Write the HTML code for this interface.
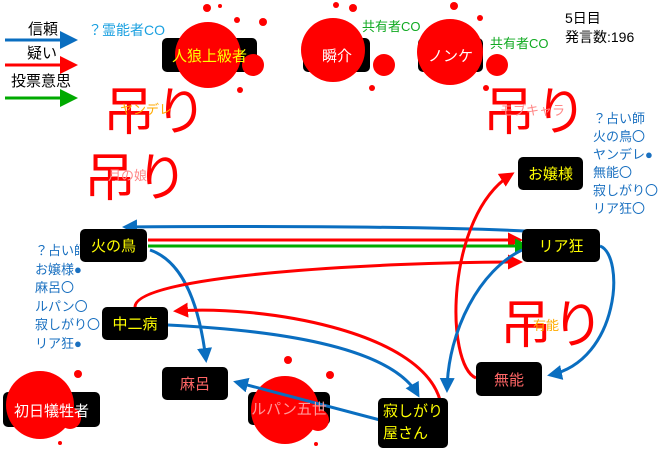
<!DOCTYPE html>
<html><head><meta charset="utf-8"><style>
body{margin:0;width:660px;height:450px;background:#fff;position:relative;overflow:hidden;font-family:"Liberation Sans","Noto Sans CJK JP",sans-serif}
.t{position:absolute;white-space:nowrap}
.n{position:absolute;background:#000;border-radius:5px;color:#ff0;font-size:15px;display:flex;align-items:center;justify-content:center}
</style></head><body>
<svg width="660" height="450" style="position:absolute;left:0;top:0">
<defs>
<marker id="b" markerWidth="5" markerHeight="5" refX="4" refY="2.5" orient="auto" markerUnits="strokeWidth"><path d="M0,0L5,2.5L0,5z" fill="#0a6ec0"/></marker>
<marker id="r" markerWidth="5" markerHeight="5" refX="4" refY="2.5" orient="auto" markerUnits="strokeWidth"><path d="M0,0L5,2.5L0,5z" fill="#f00"/></marker>
<marker id="g" markerWidth="5" markerHeight="5" refX="4" refY="2.5" orient="auto" markerUnits="strokeWidth"><path d="M0,0L5,2.5L0,5z" fill="#0a0"/></marker>
</defs>
<path d="M5,40H62" stroke="#0a6ec0" stroke-width="3"/><path d="M60,31L78,40L60,49z" fill="#0a6ec0"/>
<path d="M5,65H62" stroke="#f00" stroke-width="3"/><path d="M60,56L78,65L60,74z" fill="#f00"/>
<path d="M5,98H62" stroke="#0a0" stroke-width="3"/><path d="M60,89L78,98L60,107z" fill="#0a0"/>
<g fill="#000">
<rect x="162" y="38" width="95" height="34" rx="5"/>
<rect x="303" y="38" width="67" height="34" rx="5"/>
<rect x="418" y="38" width="65" height="34" rx="5"/>
<rect x="3" y="392" width="97" height="35" rx="5"/>
<rect x="248" y="392" width="82" height="33" rx="5"/>
</g>
<g fill="#f00">
<circle cx="208" cy="55" r="33"/><circle cx="253" cy="65" r="11"/><circle cx="207" cy="8" r="4"/><circle cx="237" cy="20" r="3"/><circle cx="263" cy="22" r="4"/><circle cx="240" cy="90" r="3"/><circle cx="220" cy="6" r="2"/>
<circle cx="333" cy="50" r="32"/><circle cx="384" cy="65" r="11"/><circle cx="353" cy="8" r="4"/><circle cx="372" cy="88" r="3"/><circle cx="336" cy="5" r="3"/>
<circle cx="450" cy="52" r="33"/><circle cx="497" cy="65" r="11"/><circle cx="454" cy="6" r="4"/><circle cx="480" cy="18" r="3"/><circle cx="486" cy="88" r="3"/>
<circle cx="40" cy="405" r="34"/><circle cx="70" cy="418" r="11"/><circle cx="78" cy="374" r="4"/><circle cx="60" cy="443" r="2"/>
<circle cx="285" cy="410" r="34"/><circle cx="318" cy="420" r="11"/><circle cx="288" cy="360" r="4"/><circle cx="330" cy="375" r="4"/><circle cx="316" cy="444" r="2"/>
</g>
<g stroke-width="3" fill="none">
<path d="M525,231C420,226 220,226 125,227" stroke="#0a6ec0" marker-end="url(#b)"/>
<path d="M148,240H520" stroke="#f00" marker-end="url(#r)"/>
<path d="M148,246H527" stroke="#0a0" marker-end="url(#g)"/>
<path d="M150,250C185,262 200,310 206,360" stroke="#0a6ec0" marker-end="url(#b)"/>
<path d="M135,307C135,275 380,262 520,262" stroke="#f00" marker-end="url(#r)"/>
<path d="M440,400C420,330 260,305 176,311" stroke="#f00" marker-end="url(#r)"/>
<path d="M168,325C270,330 390,345 418,395" stroke="#0a6ec0" marker-end="url(#b)"/>
<path d="M380,420L236,382" stroke="#0a6ec0" marker-end="url(#b)"/>
<path d="M476,378C445,365 445,215 512,174" stroke="#f00" marker-end="url(#r)"/>
<path d="M522,250C480,270 448,330 447,390" stroke="#0a6ec0" marker-end="url(#b)"/>
<path d="M600,246C625,255 620,360 550,375" stroke="#0a6ec0" marker-end="url(#b)"/>
</g>
</svg>
<div class="t" style="left:28px;top:18px;font-size:15px">信頼</div>
<div class="t" style="left:27px;top:42px;font-size:15px">疑い</div>
<div class="t" style="left:11px;top:70px;font-size:15px">投票意思</div>
<div class="t" style="left:88px;top:20px;font-size:14px;color:#1aa0e0">？霊能者CO</div>
<div class="t" style="left:362px;top:16px;font-size:13px;color:#1a2">共有者CO</div>
<div class="t" style="left:490px;top:33px;font-size:13px;color:#1a2">共有者CO</div>
<div class="t" style="left:565px;top:9px;font-size:14px;line-height:19px">5日目<br>発言数:196</div>
<div class="t" style="left:593px;top:110px;font-size:13px;line-height:18px;color:#1a70c0">？占い師<br>火の鳥〇<br>ヤンデレ●<br>無能〇<br>寂しがり〇<br>リア狂〇</div>
<div class="t" style="left:35px;top:242px;font-size:13px;line-height:18.5px;color:#1a70c0">？占い師<br>お嬢様●<br>麻呂〇<br>ルパン〇<br>寂しがり〇<br>リア狂●</div>
<div class="t" style="left:103px;top:70px;font-size:52px;color:#f00">吊り</div>
<div class="t" style="left:120px;top:99px;font-size:13px;color:#fa0">ヤンデレ</div>
<div class="t" style="left:84px;top:136px;font-size:52px;color:#f00">吊り</div>
<div class="t" style="left:108px;top:165px;font-size:13px;color:#f88">月の娘</div>
<div class="t" style="left:483px;top:70px;font-size:52px;color:#f00">吊り</div>
<div class="t" style="left:500px;top:100px;font-size:13px;color:#f88">モブキャラ</div>
<div class="t" style="left:500px;top:283px;font-size:52px;color:#f00">吊り</div>
<div class="t" style="left:533px;top:315px;font-size:13px;color:#fa0">有能</div>
<div class="n" style="left:162px;top:38px;width:95px;height:34px;background:transparent">人狼上級者</div>
<div class="n" style="left:304px;top:38px;width:66px;height:34px;background:transparent;color:#fff">瞬介</div>
<div class="n" style="left:418px;top:38px;width:65px;height:34px;background:transparent;color:#fff">ノンケ</div>
<div class="n" style="left:518px;top:157px;width:65px;height:33px">お嬢様</div>
<div class="n" style="left:80px;top:229px;width:67px;height:33px">火の鳥</div>
<div class="n" style="left:522px;top:229px;width:78px;height:33px">リア狂</div>
<div class="n" style="left:102px;top:307px;width:66px;height:33px">中二病</div>
<div class="n" style="left:162px;top:367px;width:66px;height:33px;color:#f66">麻呂</div>
<div class="n" style="left:476px;top:362px;width:66px;height:34px;color:#f66">無能</div>
<div class="n" style="left:378px;top:398px;width:70px;height:50px;line-height:22px;text-align:left">寂しがり<br>屋さん</div>
<div class="n" style="left:3px;top:393px;width:97px;height:34px;background:transparent;color:#fff">初日犠牲者</div>
<div class="n" style="left:248px;top:392px;width:82px;height:33px;background:transparent;color:#f99">ルパン五世</div>
</body></html>
